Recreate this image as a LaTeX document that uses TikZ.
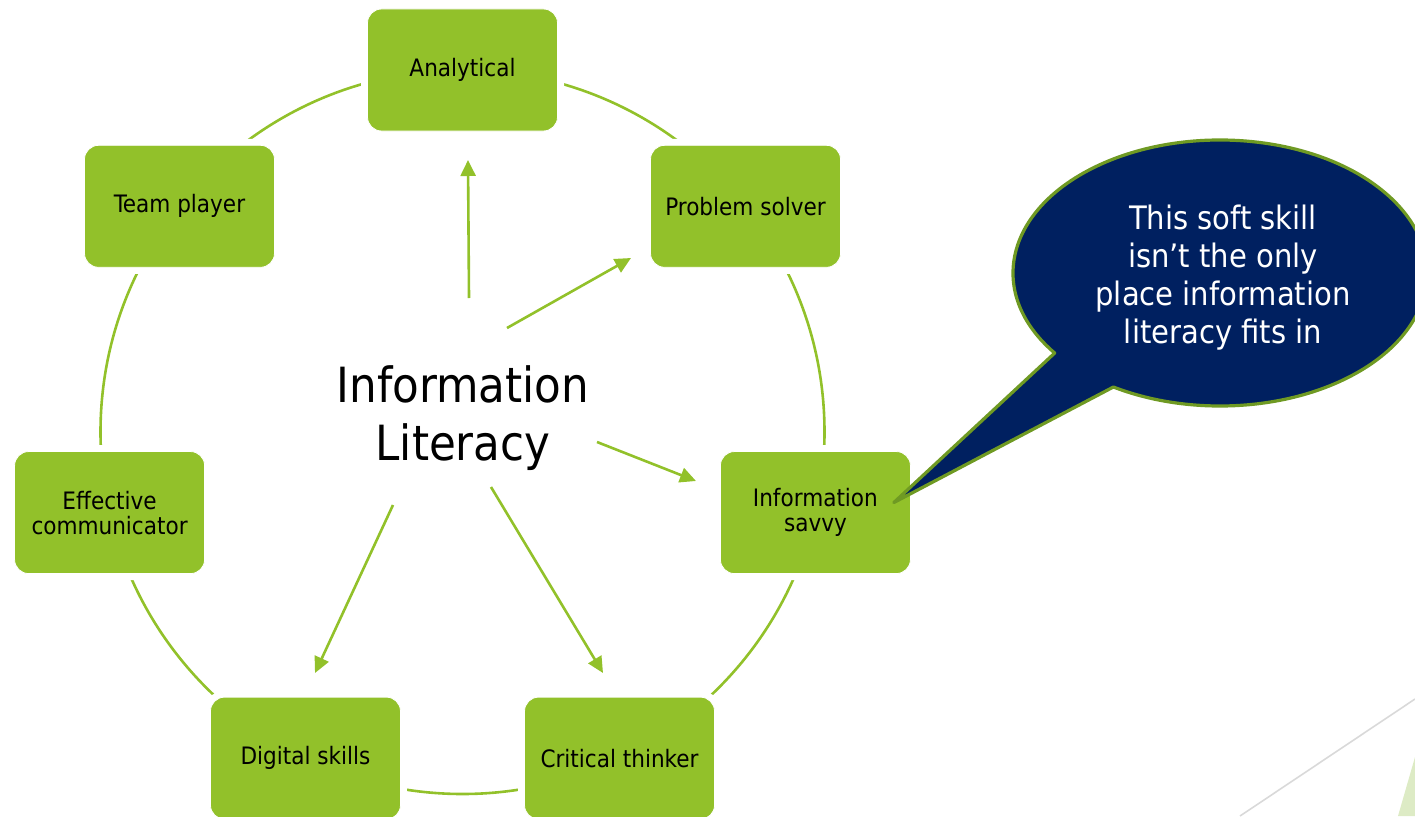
\documentclass[tikz,border=0pt]{standalone}
\usepackage{fontspec}
\setmainfont{DejaVu Sans Condensed}
\usetikzlibrary{arrows.meta,calc}
\definecolor{leaf}{HTML}{92C12A}
\definecolor{navy}{HTML}{002060}
\definecolor{olive}{HTML}{6F9A23}
\definecolor{paleleaf}{HTML}{DDEBC5}
\definecolor{rule}{HTML}{D9D9D9}
\tikzset{
  skillbox/.style={rectangle, rounded corners=14pt, fill=leaf, draw=white, line width=0.8pt,
    minimum width=190pt, minimum height=122pt, inner sep=2pt, align=center,
    font=\fontsize{24}{25}\selectfont, text=black,
    preaction={draw=white, line width=13pt}},
  ring/.style={draw=leaf, line width=2.6pt},
  feed/.style={draw=leaf, line width=2.6pt, -{Triangle[length=16pt,width=15pt]}},
  hub/.style={align=center, font=\fontsize{48.5}{58}\selectfont, inner sep=0pt},
  bubble/.style={fill=navy, draw=olive, line width=3.2pt, line join=round},
  bubbletext/.style={align=center, text=white, font=\fontsize{32.3}{38}\selectfont, inner sep=0pt}
}
\begin{document}
\begin{tikzpicture}[x=1pt, y=-1pt]
\useasboundingbox (0,0) rectangle (1415,816);
\clip (0,0) rectangle (1415,816);

% corner ornament
\fill[paleleaf] (1398,816) -- (1415,757) -- (1415,816) -- cycle;
\draw[rule, line width=1.6pt] (1240,816) -- (1415,699);

% cycle ring
\coordinate (O) at (462.5,432);
\draw[ring] (O) circle[radius=362];

% skill boxes around the ring
\node[skillbox] (ana)  at ($(O)+(-90:362)$) {Analytical};
\node[skillbox] (prob) at ($(O)+(-38.57:362)$) {Problem solver};
\node[skillbox] (sav)  at ($(O)+(12.86:362)$) {Information\\savvy};
\node[skillbox] (crit) at ($(O)+(64.29:362)$) {Critical thinker};
\node[skillbox] (dig)  at ($(O)+(115.71:362)$) {Digital skills};
\node[skillbox] (eff)  at ($(O)+(167.14:362)$) {Effective\\communicator};
\node[skillbox] (team) at ($(O)+(218.57:362)$) {Team player};

% hub text
\node[hub] (lit) at (463,418.5) {Information\\Literacy};

% arrow ends
\coordinate (lit-ana)  at (469,298);
\coordinate (lit-prob) at (507,328);
\coordinate (lit-sav)  at (597,442);
\coordinate (lit-crit) at (491,487);
\coordinate (lit-dig)  at (393,505);
\coordinate (ana-in)  at (468,160);
\coordinate (prob-in) at (631,258);
\coordinate (sav-in)  at (696,481);
\coordinate (crit-in) at (603,673);
\coordinate (dig-in)  at (315,673);

\draw[feed] (lit-ana)  -- (ana-in);
\draw[feed] (lit-prob) -- (prob-in);
\draw[feed] (lit-sav)  -- (sav-in);
\draw[feed] (lit-crit) -- (crit-in);
\draw[feed] (lit-dig)  -- (dig-in);

% speech bubble pointing at the savvy box
\coordinate (C) at (1220,273);
\coordinate (tip) at ($(sav.east)+(-17,-10)$);
\draw[bubble] (tip) -- ($(C)+(143:207 and 133)$)
  arc[start angle=143, end angle=481, x radius=207, y radius=133] -- cycle;
\node[bubbletext] (note) at (1223,278) {This soft skill\\isn’t the only\\place information\\literacy fits in};
\end{tikzpicture}
\end{document}
